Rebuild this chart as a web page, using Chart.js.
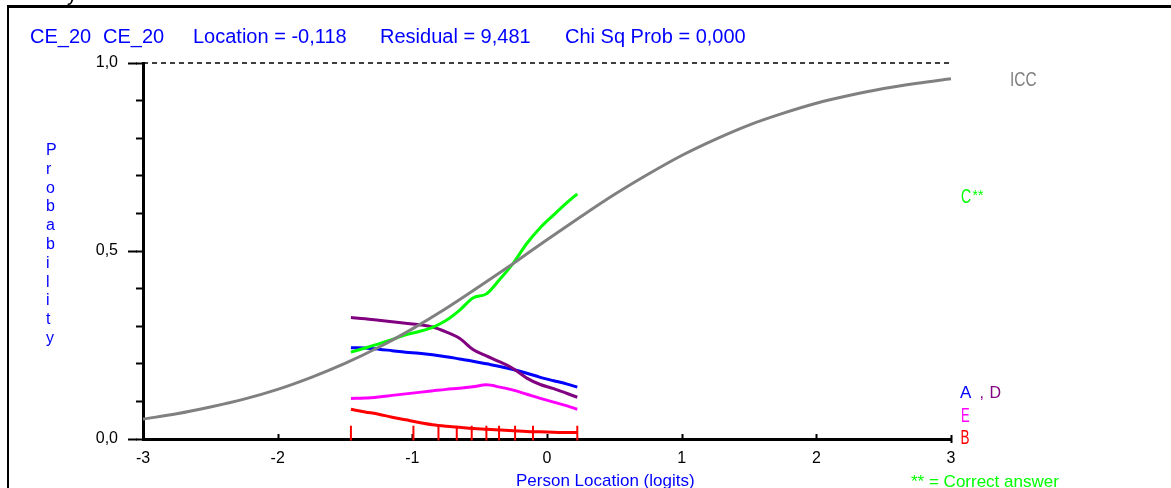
<!DOCTYPE html>
<html>
<head>
<meta charset="utf-8">
<script src="https://cdn.jsdelivr.net/npm/chart.js@4.4.1/dist/chart.umd.min.js"></script>
<style>
  html, body { margin: 0; padding: 0; background: #fff; }
  body { width: 1171px; height: 488px; position: relative; overflow: hidden; }
  .frame { position: absolute; left: 7px; top: 5px; right: 0; bottom: 0; border-left: 2px solid #000; border-top: 3px solid #000; }
  #icc { position: absolute; left: 0; top: 0; }
</style>
</head>
<body>
<div class="frame"></div>
<canvas id="icc" width="1171" height="488"></canvas>
<script>
// item characteristic curve, logits on x
const iccX = [-3, -2.75, -2.5, -2.25, -2, -1.75, -1.5, -1.25, -1, -0.75, -0.5, -0.25, 0, 0.25, 0.5, 0.75, 1, 1.25, 1.5, 1.75, 2, 2.25, 2.5, 2.75, 3];
const iccY = [0.053, 0.067, 0.085, 0.106, 0.132, 0.164, 0.201, 0.244, 0.293, 0.347, 0.406, 0.467, 0.530, 0.591, 0.650, 0.704, 0.754, 0.797, 0.835, 0.866, 0.893, 0.914, 0.932, 0.946, 0.958];

// observed proportions per distractor across the class intervals
const optX = [-1.456, -1.35, -1.25, -1.15, -1.05, -0.95, -0.85, -0.75, -0.65, -0.55, -0.45, -0.35, -0.25, -0.15, -0.05, 0.05, 0.15, 0.225];
const optC = [0.231, 0.242, 0.253, 0.265, 0.277, 0.286, 0.297, 0.315, 0.342, 0.375, 0.386, 0.425, 0.468, 0.520, 0.562, 0.596, 0.629, 0.652];
const optD = [0.323, 0.320, 0.316, 0.312, 0.308, 0.304, 0.298, 0.285, 0.268, 0.238, 0.221, 0.205, 0.187, 0.162, 0.145, 0.134, 0.121, 0.111];
const optA = [0.243, 0.242, 0.239, 0.235, 0.231, 0.228, 0.224, 0.219, 0.213, 0.207, 0.200, 0.193, 0.185, 0.175, 0.164, 0.155, 0.146, 0.138];
const optE = [0.108, 0.109, 0.112, 0.116, 0.120, 0.124, 0.128, 0.132, 0.135, 0.139, 0.144, 0.138, 0.130, 0.119, 0.108, 0.098, 0.088, 0.079];
const optB = [0.079, 0.072, 0.066, 0.058, 0.051, 0.044, 0.038, 0.034, 0.031, 0.028, 0.026, 0.024, 0.022, 0.020, 0.019, 0.018, 0.017, 0.017];

// class interval boundaries (red marks on the x axis)
const intervalX = [-1.456, -0.992, -0.806, -0.670, -0.559, -0.450, -0.356, -0.237, -0.104, 0.225];
const intervalLow = -0.004;
const intervalHigh = 0.035;

const xTicks = [-3, -2, -1, 0, 1, 2, 3];
const yMajor = [0, 0.5, 1];

const FONT = '"Liberation Sans", Arial, sans-serif';
Chart.defaults.font.family = FONT;

const pts = (xs, ys) => xs.map((x, i) => ({ x: x, y: ys[i] }));

const intervalMarks = [];
intervalX.forEach(x => {
  intervalMarks.push({ x: x, y: intervalLow }, { x: x, y: intervalHigh }, { x: x, y: null });
});

function curve(data, color) {
  return {
    data: data,
    borderColor: color,
    borderWidth: 3,
    pointRadius: 0,
    fill: false,
    cubicInterpolationMode: 'monotone',
    clip: false
  };
}

function txt(ctx, s, x, y, size, color, sy) {
  ctx.save();
  ctx.font = size + 'px ' + FONT;
  ctx.fillStyle = color;
  ctx.textAlign = 'left';
  ctx.textBaseline = 'alphabetic';
  ctx.translate(x, y);
  ctx.scale(1, sy || 1);
  ctx.fillText(s, 0, 0);
  ctx.restore();
}

// longer marks at 0 / 0.5 / 1, inward x ticks, and all the loose text
const axisMarks = {
  id: 'axisMarks',
  beforeDatasetsDraw(chart) {
    const ctx = chart.ctx;
    const xs = chart.scales.x, ys = chart.scales.y;
    ctx.save();
    ctx.strokeStyle = '#000';
    ctx.lineWidth = 2;
    ctx.beginPath();
    yMajor.forEach(v => {
      const py = Math.round(ys.getPixelForValue(v)) + 0.5;
      ctx.moveTo(xs.left - 15, py);
      ctx.lineTo(xs.left - 6, py);
    });
    xTicks.slice(1, -1).forEach(v => {
      const px = Math.round(xs.getPixelForValue(v)) + 0.5;
      ctx.moveTo(px, ys.bottom);
      ctx.lineTo(px, ys.bottom - 5);
    });
    const pEnd = Math.round(xs.getPixelForValue(3)) + 0.5;
    ctx.moveTo(pEnd, ys.bottom - 4);
    ctx.lineTo(pEnd, ys.bottom + 4);
    ctx.stroke();
    ctx.restore();
  },
  afterDraw(chart) {
    const ctx = chart.ctx;
    const blue = '#0000ff';
    // header line
    txt(ctx, 'CE_20', 30, 42.5, 20, blue);
    txt(ctx, 'CE_20', 103, 42.5, 20, blue);
    txt(ctx, 'Location = -0,118', 193, 42.5, 20, blue);
    txt(ctx, 'Residual = 9,481', 380, 42.5, 20, blue);
    txt(ctx, 'Chi Sq Prob = 0,000', 565, 42.5, 20, blue);
    // clipped heading fragment above the frame
    txt(ctx, 'y', 67, 0.5, 20, '#000');
    // stacked y-axis title
    'Probability'.split('').forEach((ch, i) => {
      txt(ctx, ch, 46, 155 + i * 18.8, 16, blue);
    });
    // x-axis title
    txt(ctx, 'Person Location (logits)', 516, 486, 17, blue);
    // curve labels
    txt(ctx, 'ICC', 1010, 86, 15.5, '#808080', 1.3);
    txt(ctx, 'C', 961, 202.7, 14, '#00ff00', 1.4);
    txt(ctx, '**', 972.5, 199.5, 14, '#00ff00');
    txt(ctx, 'A', 960, 398.3, 17, '#0000ff');
    txt(ctx, ',', 979.5, 398.3, 16, '#800080');
    txt(ctx, 'D', 989.5, 398.3, 16, '#800080');
    txt(ctx, 'E', 961, 421.7, 13, '#ff00ff', 1.5);
    txt(ctx, 'B', 960.5, 444, 13.5, '#ff0000', 1.45);
    txt(ctx, '** = Correct answer', 911, 486.5, 17, '#00ff00');
  }
};

new Chart(document.getElementById('icc'), {
  type: 'line',
  data: {
    datasets: [
      curve(pts(iccX, iccY), '#808080'),
      curve(pts(optX, optC), '#00ff00'),
      curve(pts(optX, optD), '#800080'),
      curve(pts(optX, optA), '#0000ff'),
      curve(pts(optX, optE), '#ff00ff'),
      curve(pts(optX, optB), '#ff0000'),
      {
        data: intervalMarks,
        borderColor: '#ff0000',
        borderWidth: 2,
        pointRadius: 0,
        spanGaps: false,
        clip: false
      },
      {
        data: [{ x: -3, y: 1 }, { x: 3, y: 1 }],
        borderColor: '#000',
        borderWidth: 1.5,
        borderDash: [5, 4],
        pointRadius: 0,
        clip: false
      }
    ]
  },
  plugins: [axisMarks],
  options: {
    responsive: false,
    animation: false,
    layout: { padding: { top: 63, right: 220, bottom: 19, left: 0 } },
    plugins: { legend: { display: false }, tooltip: { enabled: false } },
    scales: {
      x: {
        type: 'linear',
        min: -3,
        max: 3,
        afterFit: s => { s.height = 30; },
        afterBuildTicks: s => { s.ticks = xTicks.map(v => ({ value: v })); },
        grid: { display: true, drawOnChartArea: false, drawTicks: false },
        border: { display: true, color: '#000', width: 3 },
        ticks: {
          color: '#000',
          font: { size: 16 },
          padding: 10,
          maxRotation: 0,
          autoSkip: false,
          callback: v => String(v)
        }
      },
      y: {
        type: 'linear',
        min: 0,
        max: 1,
        afterFit: s => { s.width = 143; },
        grid: { display: true, drawOnChartArea: false, drawTicks: true, tickLength: 7, tickColor: '#000', tickWidth: 2 },
        border: { display: true, color: '#000', width: 3 },
        ticks: {
          stepSize: 0.1,
          autoSkip: false,
          color: '#000',
          font: { size: 16 },
          padding: 18,
          callback: v => yMajor.some(m => Math.abs(m - v) < 1e-6) ? v.toFixed(1).replace('.', ',') : ''
        }
      }
    }
  }
});
</script>
</body>
</html>
